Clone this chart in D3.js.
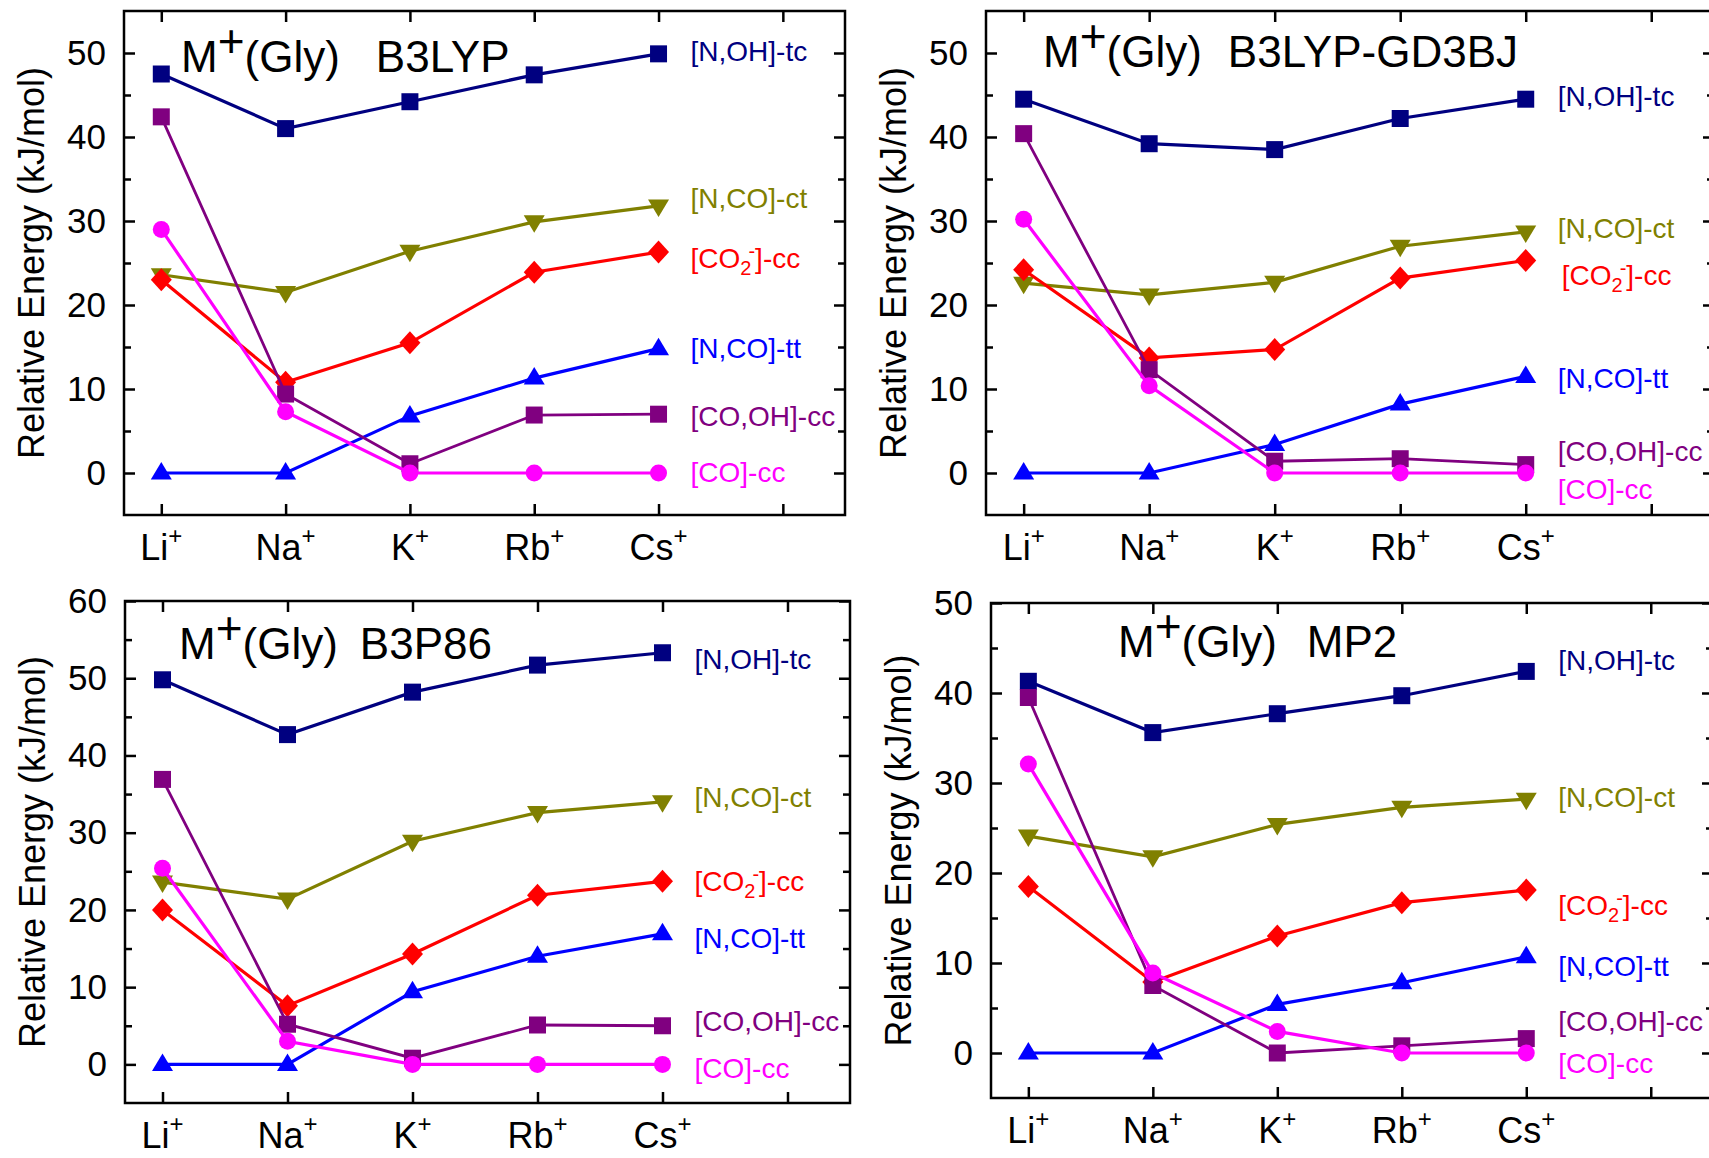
<!DOCTYPE html>
<html>
<head>
<meta charset="utf-8">
<script src="https://cdn.jsdelivr.net/npm/d3@7"></script>
<style>
  body { margin: 0; background: #fff; }
  svg { display: block; font-family: "Liberation Sans", Arial, sans-serif; }
</style>
</head>
<body>
<div class="chart"></div>
<script>
// categories (alkali cations) and conformer names
var cations = ["Li", "Na", "K", "Rb", "Cs"];
var conformers = ["[N,OH]-tc", "[N,CO]-ct", "[CO2-]-cc", "[N,CO]-tt", "[CO,OH]-cc", "[CO]-cc"];
var methods = ["B3LYP", "B3LYP-GD3BJ", "B3P86", "MP2"];
var yMax = [55, 55, 60, 50];
var yMin = [-5, -5, -5, -5];

// relative energies (kJ/mol), one row per conformer, columns Li..Cs
var b3lyp = [
  [47.5, 41.0, 44.2, 47.4, 49.9],
  [23.6, 21.5, 26.4, 29.9, 31.8],
  [23.0, 10.8, 15.5, 23.9, 26.3],
  [0, 0, 6.8, 11.3, 14.8],
  [42.4, 9.4, 1.1, 6.9, 7.0],
  [29.0, 7.3, 0, 0, 0]
];
var b3lypGd3bj = [
  [44.5, 39.2, 38.5, 42.2, 44.5],
  [22.6, 21.2, 22.7, 27.0, 28.7],
  [24.2, 13.7, 14.7, 23.2, 25.3],
  [0, 0, 3.4, 8.2, 11.5],
  [40.4, 12.3, 1.4, 1.7, 1.0],
  [30.2, 10.4, 0, 0, 0]
];
var b3p86 = [
  [49.8, 42.7, 48.2, 51.7, 53.3],
  [23.6, 21.4, 28.9, 32.6, 34.0],
  [20.0, 7.6, 14.3, 21.9, 23.7],
  [0, 0, 9.4, 14.0, 16.9],
  [36.9, 5.2, 0.8, 5.1, 5.0],
  [25.4, 3.0, 0, 0, 0]
];
var mp2 = [
  [41.3, 35.6, 37.7, 39.7, 42.4],
  [24.1, 21.8, 25.4, 27.3, 28.2],
  [18.5, 7.9, 13.0, 16.7, 18.1],
  [0, 0, 5.4, 7.8, 10.7],
  [39.5, 7.5, 0, 0.8, 1.6],
  [32.1, 8.9, 2.4, 0, 0]
];

// where the conformer names sit (in kJ/mol) next to the Cs+ point
var b3lypLabelAt = [50.2, 32.7, 25.6, 14.8, 6.8, 0.1];
var b3lypGd3bjLabelAt = [44.9, 29.2, 23.5, 11.3, 2.6, -1.9];
var b3p86LabelAt = [52.4, 34.6, 23.7, 16.3, 5.6, -0.5];
var mp2LabelAt = [43.6, 28.4, 16.4, 9.7, 3.5, -1.1];

var colors = ["#000080", "#808000", "#ff0000", "#0000ff", "#800080", "#ff00ff"];

// custom marker shapes
var square = { draw: function(c) { c.rect(-8.5, -8.5, 17, 17); } };
var circle = { draw: function(c) { c.moveTo(8.5, 0); c.arc(0, 0, 8.5, 0, 2 * Math.PI); } };
var diamond = { draw: function(c) { c.moveTo(0, -11.5); c.lineTo(10.5, 0); c.lineTo(0, 11.5); c.lineTo(-10.5, 0); c.closePath(); } };
var triUp = { draw: function(c) { c.moveTo(0, -11); c.lineTo(10.5, 6.5); c.lineTo(-10.5, 6.5); c.closePath(); } };
var triDown = { draw: function(c) { c.moveTo(0, 11); c.lineTo(10.5, -6.5); c.lineTo(-10.5, -6.5); c.closePath(); } };
var shapes = [square, triDown, diamond, triUp, square, circle];

var panels = [
  { data: b3lyp, labels: b3lypLabelAt, left: 124, right: 845, top: 11, bottom: 515, titleX: 181, titleY: 72, gap: 36 },
  { data: b3lypGd3bj, labels: b3lypGd3bjLabelAt, left: 986, right: 1714, top: 11, bottom: 515, titleX: 1043, titleY: 67, gap: 26 },
  { data: b3p86, labels: b3p86LabelAt, left: 125, right: 850, top: 601, bottom: 1103, titleX: 179, titleY: 659, gap: 22 },
  { data: mp2, labels: mp2LabelAt, left: 991, right: 1713, top: 603, bottom: 1098, titleX: 1118, titleY: 657, gap: 30 }
];

var svgWidth = 1709, svgHeight = 1158;

var svg = d3.select(".chart").append("svg")
  .attr("width", svgWidth)
  .attr("height", svgHeight);

svg.append("rect").attr("width", svgWidth).attr("height", svgHeight).attr("fill", "#fff");

var drawOrder = [0, 1, 2, 3, 4, 5];

panels.forEach(function(p, pi) {
  var xScale = d3.scaleLinear().domain([-0.3, 5.5]).range([p.left, p.right]);
  var yScale = d3.scaleLinear().domain([yMin[pi], yMax[pi]]).range([p.bottom, p.top]);

  var g = svg.append("g");

  var majors = d3.range(0, yMax[pi] + 0.1, 10);
  var minors = d3.range(-5, yMax[pi], 10).filter(function(v) { return v > yMin[pi]; });

  // left axis with labels
  var yAxis = g.append("g")
    .attr("transform", "translate(" + p.left + ",0)")
    .call(d3.axisLeft(yScale).tickValues(majors).tickSize(-11).tickPadding(18).tickFormat(d3.format("d")));
  yAxis.attr("font-size", 35).attr("font-family", null);
  g.append("g")
    .attr("transform", "translate(" + p.left + ",0)")
    .call(d3.axisLeft(yScale).tickValues(minors).tickSize(-7).tickFormat(""));

  // right axis mirror
  g.append("g")
    .attr("transform", "translate(" + p.right + ",0)")
    .call(d3.axisRight(yScale).tickValues(majors).tickSize(-11).tickFormat(""));
  g.append("g")
    .attr("transform", "translate(" + p.right + ",0)")
    .call(d3.axisRight(yScale).tickValues(minors).tickSize(-7).tickFormat(""));

  // bottom / top x axes
  var xTicks = [0, 1, 2, 3, 4, 5];
  g.append("g")
    .attr("transform", "translate(0," + p.bottom + ")")
    .call(d3.axisBottom(xScale).tickValues(xTicks).tickSize(-11).tickFormat(""));
  g.append("g")
    .attr("transform", "translate(0," + p.top + ")")
    .call(d3.axisTop(xScale).tickValues(xTicks).tickSize(-11).tickFormat(""));

  g.selectAll(".domain").remove();
  g.selectAll(".tick line").attr("stroke", "#000").attr("stroke-width", 2.5);

  // frame
  g.append("rect")
    .attr("x", p.left).attr("y", p.top)
    .attr("width", p.right - p.left).attr("height", p.bottom - p.top)
    .attr("fill", "none").attr("stroke", "#000").attr("stroke-width", 2.5);

  // cation labels
  var xl = g.selectAll(null).data(cations).enter().append("text")
    .attr("x", function(d, i) { return xScale(i); })
    .attr("y", p.bottom + 45)
    .attr("text-anchor", "middle")
    .attr("font-size", 36);
  xl.append("tspan").text(function(d) { return d; });
  xl.append("tspan").attr("font-size", 24).attr("dy", -16).text("+");

  // y axis title
  g.append("text")
    .attr("transform", "translate(" + (p.left - 93) + "," + ((p.top + p.bottom) / 2) + ") rotate(-90)")
    .attr("text-anchor", "middle")
    .attr("dy", "0.35em")
    .attr("font-size", 36)
    .text("Relative Energy (kJ/mol)");

  // panel title
  var t = g.append("text")
    .attr("x", p.titleX).attr("y", p.titleY)
    .attr("font-size", 44);
  t.append("tspan").text("M");
  t.append("tspan").attr("font-size", 46).attr("dy", -15).text("+");
  t.append("tspan").attr("dy", 15).text("(Gly)");
  t.append("tspan").attr("dx", p.gap).text(methods[pi]);

  var line = d3.line()
    .x(function(d, i) { return xScale(i); })
    .y(function(d) { return yScale(d); });

  drawOrder.forEach(function(si) {
    var vals = p.data[si];
    g.append("path")
      .datum(vals)
      .attr("d", line)
      .attr("fill", "none")
      .attr("stroke", colors[si])
      .attr("stroke-width", si === 4 ? 2.8 : 3.2);
    g.selectAll(null)
      .data(vals)
      .enter()
      .append("path")
      .attr("transform", function(d, i) { return "translate(" + xScale(i) + "," + yScale(d) + ")"; })
      .attr("d", d3.symbol().type(shapes[si]))
      .attr("fill", colors[si]);
  });

  // conformer names
  conformers.forEach(function(name, si) {
    var lab = g.append("text")
      .attr("x", xScale(4) + 32 + (pi === 1 && si === 2 ? 4 : 0))
      .attr("y", yScale(p.labels[si]))
      .attr("dy", "0.35em")
      .attr("font-size", 28)
      .attr("fill", colors[si]);
    if (si === 2) {
      lab.append("tspan").text("[CO");
      lab.append("tspan").attr("font-size", 20).attr("dy", 7).text("2");
      lab.append("tspan").attr("font-size", 20).attr("dy", -17).attr("dx", -3).text("-");
      lab.append("tspan").attr("dy", 10).text("]-cc");
    } else {
      lab.text(name);
    }
  });
});
</script>
</body>
</html>
